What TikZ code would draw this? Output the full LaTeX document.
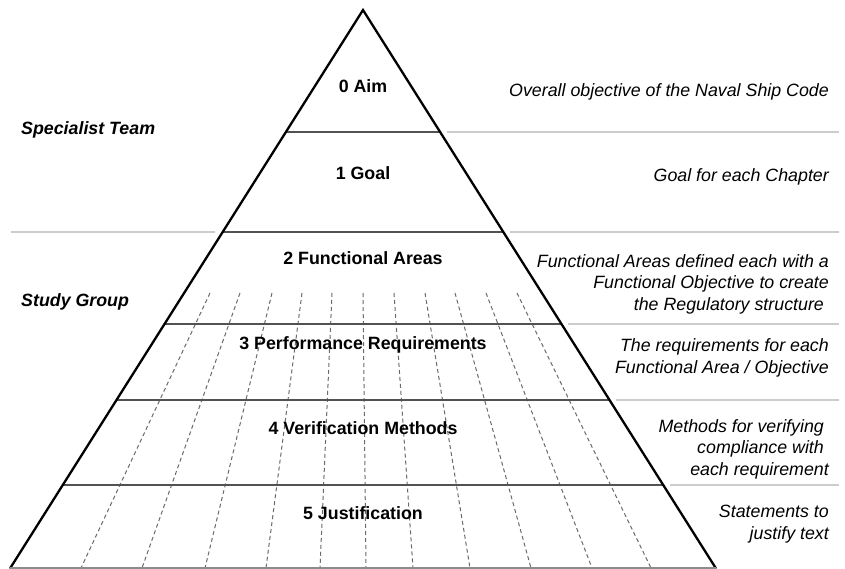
\documentclass[tikz,border=0pt]{standalone}
\usepackage{fontspec}
\setmainfont{Liberation Sans}
\begin{document}
\begin{tikzpicture}[x=1pt,y=-1pt,
  side/.style={line width=2.3pt,black,line cap=round},
  level/.style={line width=1.6pt,black!68},
  sep/.style={line width=1.4pt,black!20},
  grid/.style={line width=1pt,black!58,dash pattern=on 4pt off 3pt},
  plabel/.style={font=\fontsize{17.8}{21.5}\selectfont\bfseries,inner sep=0pt,anchor=base},
  rlabel/.style={font=\fontsize{17.8}{21.5}\selectfont\itshape,inner sep=0pt,align=right,anchor=east},
  llabel/.style={font=\fontsize{17.8}{21.5}\selectfont\bfseries\itshape,inner sep=0pt,anchor=base west}]
\useasboundingbox (0,0) rectangle (845,568);
\fill[white] (0,0) rectangle (845,568);
% dashed grid
\foreach \t/\b in {210/81,240/142,272/205,302/266,332/320,363/366,394/413,425/470,455/531,486/592,517/651}
  \draw[grid] (\t,293) -- (\b,568);
% level lines inside pyramid
\draw[level] (285.9,132) -- (440.1,132);
\draw[level] (222.7,232) -- (503.3,232);
\draw[level] (164.6,324) -- (561.4,324);
\draw[level] (116.5,400) -- (609.5,400);
\draw[level] (62.8,485) -- (663.2,485);
% separators outside
\draw[sep] (447,132) -- (839,132);
\draw[sep] (510,232) -- (839,232);
\draw[sep] (11,232) -- (215,232);
\draw[sep] (568,324) -- (839,324);
\draw[sep] (616,400) -- (839,400);
\draw[sep] (670,485) -- (839,485);
% pyramid sides
\coordinate (apex) at (363,10);
\coordinate (bl) at (10.3,568);
\coordinate (br) at (715.7,568);
\draw[side,line join=miter] (bl) -- (apex) -- (br);
\draw[line width=1.4pt,black!45] (bl) -- (br);
% pyramid labels
\node[plabel] (l0) at (363,92) {0 Aim};
\node[plabel] (l1) at (363,179) {1 Goal};
\node[plabel] (l2) at (363,264) {2 Functional Areas};
\node[plabel] (l3) at (363,349) {3 Performance Requirements};
\node[plabel] (l4) at (363,434) {4 Verification Methods};
\node[plabel] (l5) at (363,519) {5 Justification};
% left labels
\node[llabel] (st) at (21,134) {Specialist Team};
\node[llabel] (sg) at (21,306) {Study Group};
% right labels
\node[rlabel] (r0) at (829,92) {Overall objective of the Naval Ship Code};
\node[rlabel] (r1) at (829,177) {Goal for each Chapter};
\node[rlabel] (r2) at (829,284) {Functional Areas defined each with a\\Functional Objective to create\\the Regulatory structure\hphantom{ }};
\node[rlabel] (r3) at (829,358) {The requirements for each\\Functional Area / Objective};
\node[rlabel] (r4) at (829,449) {Methods for verifying\hphantom{ }\\compliance with\hphantom{ }\\each requirement};
\node[rlabel] (r5) at (829,524) {Statements to\\justify text};
\end{tikzpicture}
\end{document}
